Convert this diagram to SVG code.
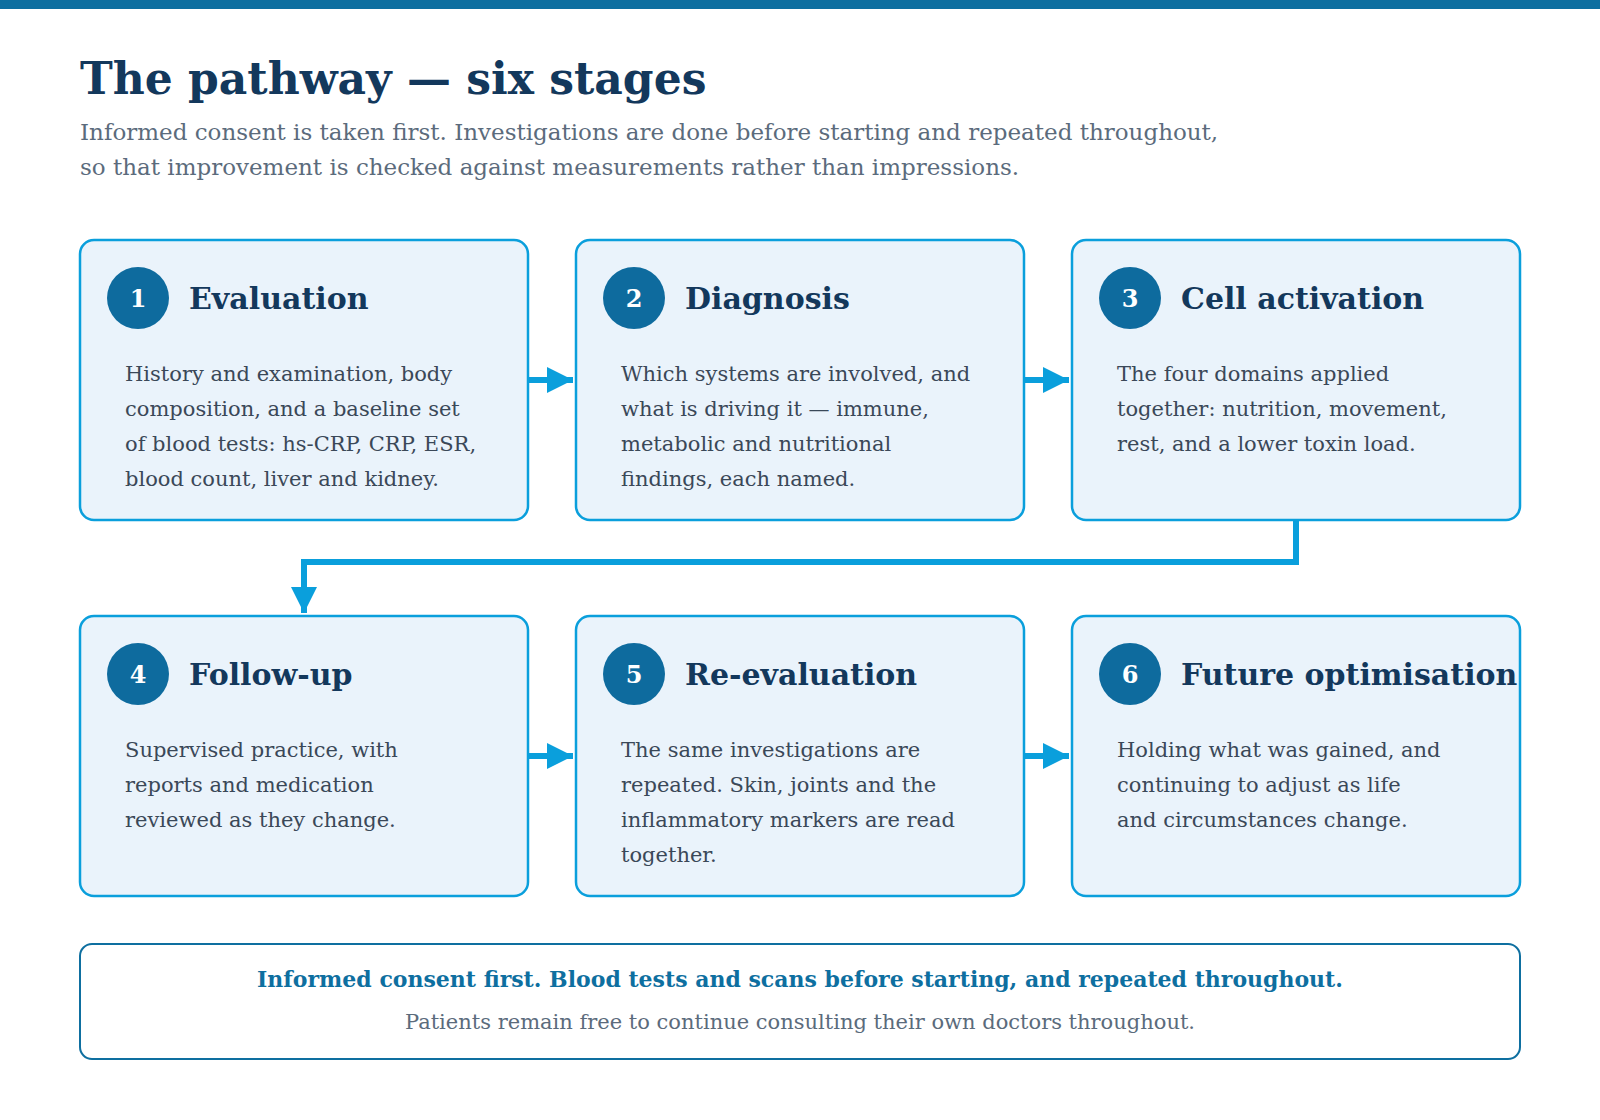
<svg xmlns="http://www.w3.org/2000/svg" width="1600" height="1120" viewBox="0 0 1600 1120">
<defs>
<style>
.box{fill:#eaf3fb;stroke:#0a9fdc;stroke-width:2.5}
.num{fill:#0e6b9e}
.numt{font-family:"DejaVu Serif",serif;font-weight:bold;font-size:24px;fill:#fff;text-anchor:middle}
.h{font-family:"DejaVu Serif",serif;font-weight:bold;font-size:30px;fill:#13385c}
.b{font-family:"DejaVu Serif",serif;font-size:21px;fill:#3a4858}
.con{fill:none;stroke:#0a9fdc;stroke-width:6}
</style>
<marker id="ah" viewBox="0 0 10 10" refX="10" refY="5" markerWidth="4.4" markerHeight="6.4" markerUnits="strokeWidth" orient="auto"><path d="M0,0 L10,5 L0,10 z" fill="#0a9fdc"/></marker>
</defs>
<rect x="0" y="0" width="1600" height="9" fill="#0e6fa0"/>
<text x="80" y="94" font-family="DejaVu Serif,serif" font-weight="bold" font-size="44" fill="#13385c">The pathway — six stages</text>
<text font-family="DejaVu Serif,serif" font-size="23" fill="#5b6b7c"><tspan x="80" y="140">Informed consent is taken first. Investigations are done before starting and repeated throughout,</tspan><tspan x="80" y="175">so that improvement is checked against measurements rather than impressions.</tspan></text>
<g id="connectors">
<path class="con" d="M528,380 H573" marker-end="url(#ah)"/>
<path class="con" d="M1024,380 H1069" marker-end="url(#ah)"/>
<path class="con" d="M528,756 H573" marker-end="url(#ah)"/>
<path class="con" d="M1024,756 H1069" marker-end="url(#ah)"/>
<path class="con" d="M1296,520 V562 H304 V613" marker-end="url(#ah)"/>
</g>
<g id="n1"><rect class="box" x="80" y="240" width="448" height="280" rx="14"/><circle class="num" cx="138" cy="298" r="31"/><text class="numt" x="138" y="307">1</text><text class="h" x="189" y="309">Evaluation</text>
<text class="b"><tspan x="125" y="381">History and examination, body</tspan><tspan x="125" y="416">composition, and a baseline set</tspan><tspan x="125" y="451">of blood tests: hs-CRP, CRP, ESR,</tspan><tspan x="125" y="486">blood count, liver and kidney.</tspan></text></g>
<g id="n2"><rect class="box" x="576" y="240" width="448" height="280" rx="14"/><circle class="num" cx="634" cy="298" r="31"/><text class="numt" x="634" y="307">2</text><text class="h" x="685" y="309">Diagnosis</text>
<text class="b"><tspan x="621" y="381">Which systems are involved, and</tspan><tspan x="621" y="416">what is driving it — immune,</tspan><tspan x="621" y="451">metabolic and nutritional</tspan><tspan x="621" y="486">findings, each named.</tspan></text></g>
<g id="n3"><rect class="box" x="1072" y="240" width="448" height="280" rx="14"/><circle class="num" cx="1130" cy="298" r="31"/><text class="numt" x="1130" y="307">3</text><text class="h" x="1181" y="309">Cell activation</text>
<text class="b"><tspan x="1117" y="381">The four domains applied</tspan><tspan x="1117" y="416">together: nutrition, movement,</tspan><tspan x="1117" y="451">rest, and a lower toxin load.</tspan></text></g>
<g id="n4"><rect class="box" x="80" y="616" width="448" height="280" rx="14"/><circle class="num" cx="138" cy="674" r="31"/><text class="numt" x="138" y="683">4</text><text class="h" x="189" y="685">Follow-up</text>
<text class="b"><tspan x="125" y="757">Supervised practice, with</tspan><tspan x="125" y="792">reports and medication</tspan><tspan x="125" y="827">reviewed as they change.</tspan></text></g>
<g id="n5"><rect class="box" x="576" y="616" width="448" height="280" rx="14"/><circle class="num" cx="634" cy="674" r="31"/><text class="numt" x="634" y="683">5</text><text class="h" x="685" y="685">Re-evaluation</text>
<text class="b"><tspan x="621" y="757">The same investigations are</tspan><tspan x="621" y="792">repeated. Skin, joints and the</tspan><tspan x="621" y="827">inflammatory markers are read</tspan><tspan x="621" y="862">together.</tspan></text></g>
<g id="n6"><rect class="box" x="1072" y="616" width="448" height="280" rx="14"/><circle class="num" cx="1130" cy="674" r="31"/><text class="numt" x="1130" y="683">6</text><text class="h" x="1181" y="685">Future optimisation</text>
<text class="b"><tspan x="1117" y="757">Holding what was gained, and</tspan><tspan x="1117" y="792">continuing to adjust as life</tspan><tspan x="1117" y="827">and circumstances change.</tspan></text></g>
<g id="footer"><rect x="80" y="944" width="1440" height="115" rx="12" fill="#fff" stroke="#0e6fa0" stroke-width="2"/>
<text x="800" y="987" text-anchor="middle" font-family="DejaVu Serif,serif" font-weight="bold" font-size="22" fill="#0e6fa0">Informed consent first. Blood tests and scans before starting, and repeated throughout.</text>
<text x="800" y="1029" text-anchor="middle" font-family="DejaVu Serif,serif" font-size="21" fill="#5b6b7c">Patients remain free to continue consulting their own doctors throughout.</text></g>
</svg>
